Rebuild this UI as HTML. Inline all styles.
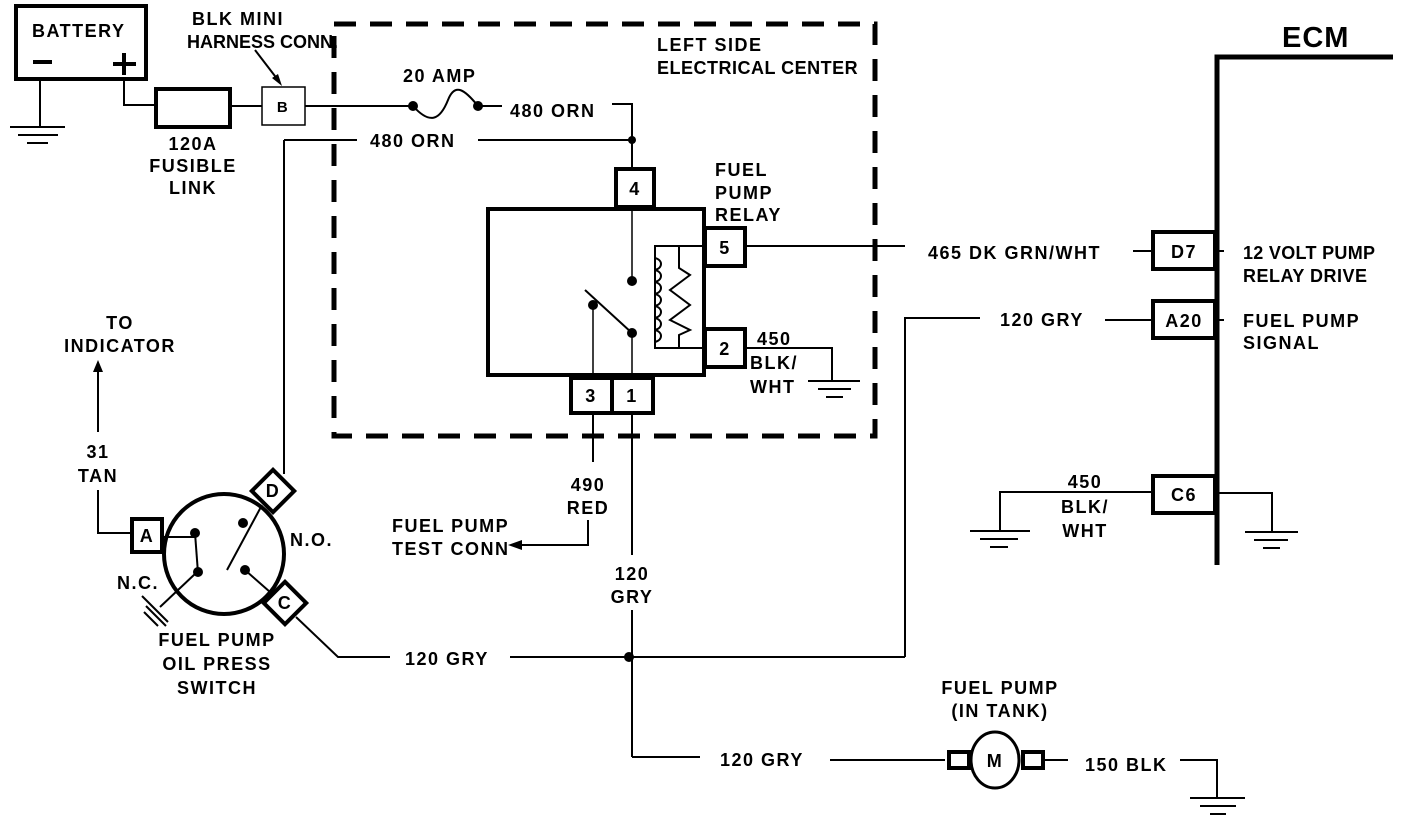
<!DOCTYPE html>
<html><head><style>
html,body{margin:0;padding:0;background:#fff;}
svg{display:block;}
text{font-family:"Liberation Sans",sans-serif;font-weight:bold;font-size:18px;letter-spacing:1.5px;fill:#000;}
</style></head><body>
<svg width="1408" height="820" viewBox="0 0 1408 820" xmlns="http://www.w3.org/2000/svg">
<g stroke="#000" fill="none" stroke-width="2">
<rect x="16" y="6" width="130" height="73" stroke-width="4"/>
<line x1="33" y1="62" x2="52" y2="62" stroke-width="4"/>
<line x1="113" y1="64" x2="136" y2="64" stroke-width="4"/>
<line x1="124" y1="53" x2="124" y2="75" stroke-width="4"/>
<line x1="40" y1="80" x2="40" y2="127"/>
<line x1="10" y1="127" x2="65" y2="127"/>
<line x1="18" y1="135" x2="58" y2="135"/>
<line x1="27" y1="143" x2="48" y2="143"/>
<polyline points="124,80 124,105 155,105"/>
<rect x="156" y="89" width="74" height="38" stroke-width="4"/>
<line x1="230" y1="106" x2="262" y2="106"/>
<rect x="262" y="87" width="43" height="38" stroke-width="1.5"/>
<line x1="255" y1="50" x2="278" y2="80"/>
<line x1="305" y1="106" x2="413" y2="106"/>
<path d="M413,106 C430,125 440,120 448,100 C455,82 465,90 478,106"/>
<line x1="478" y1="106" x2="502" y2="106"/>
<polyline points="612,104 632,104 632,168"/>
<line x1="284" y1="140" x2="357" y2="140"/>
<line x1="478" y1="140" x2="632" y2="140"/>
<line x1="284" y1="140" x2="284" y2="474"/>
<rect x="334" y="24" width="541" height="412" stroke-width="5" stroke-dasharray="22,14"/>
<rect x="488" y="209" width="216" height="166" stroke-width="4"/>
<rect x="616" y="169" width="38" height="38" stroke-width="4"/>
<rect x="705" y="228" width="40" height="38" stroke-width="4"/>
<rect x="705" y="329" width="40" height="38" stroke-width="4"/>
<rect x="571" y="378" width="82" height="35" stroke-width="4"/>
<line x1="612" y1="378" x2="612" y2="413" stroke-width="4"/>
<line x1="632" y1="209" x2="632" y2="280" stroke-width="1.5"/>
<line x1="585" y1="290" x2="632" y2="333"/>
<line x1="632" y1="333" x2="632" y2="378" stroke-width="1.5"/>
<line x1="593" y1="305" x2="593" y2="378" stroke-width="1.5"/>
<polyline points="705,246 655,246 655,348 705,348"/>
<path d="M655,258 c8,2 8,10 0,12 c8,2 8,10 0,12 c8,2 8,10 0,12 c8,2 8,10 0,12 c8,2 8,10 0,12 c8,2 8,10 0,12 c8,2 8,10 0,12" />
<polyline points="679,246 679,268 690,275 670,290 690,305 670,320 690,330 679,335 679,348"/>
<line x1="745" y1="246" x2="905" y2="246"/>
<polyline points="745,348 832,348 832,380"/>
<line x1="808" y1="381" x2="860" y2="381"/>
<line x1="818" y1="389" x2="851" y2="389"/>
<line x1="826" y1="397" x2="843" y2="397"/>
<line x1="593" y1="413" x2="593" y2="462"/>
<polyline points="588,520 588,545 520,545"/>
<line x1="632" y1="413" x2="632" y2="555"/>
<line x1="632" y1="610" x2="632" y2="757"/>
<polyline points="632,757 700,757"/>
<line x1="830" y1="760" x2="945" y2="760"/>
<line x1="510" y1="657" x2="905" y2="657"/>
<polyline points="905,657 905,318 980,318"/>
<line x1="1105" y1="320" x2="1152" y2="320"/>
<line x1="1133" y1="251" x2="1152" y2="251"/>
<polyline points="1217,565 1217,57 1393,57" stroke-width="5"/>
<rect x="1153" y="232" width="62" height="37" stroke-width="4"/>
<rect x="1153" y="301" width="62" height="37" stroke-width="4"/>
<rect x="1153" y="476" width="62" height="37" stroke-width="4"/>
<line x1="1217" y1="251" x2="1224" y2="251"/>
<line x1="1217" y1="320" x2="1224" y2="320"/>
<polyline points="1153,492 1000,492 1000,530"/>
<line x1="970" y1="531" x2="1030" y2="531"/>
<line x1="980" y1="539" x2="1018" y2="539"/>
<line x1="990" y1="547" x2="1008" y2="547"/>
<polyline points="1217,493 1272,493 1272,531"/>
<line x1="1245" y1="532" x2="1298" y2="532"/>
<line x1="1254" y1="540" x2="1288" y2="540"/>
<line x1="1263" y1="548" x2="1280" y2="548"/>
<ellipse cx="995" cy="760" rx="24" ry="28" stroke-width="3"/>
<rect x="949" y="752" width="20" height="16" stroke-width="4"/>
<rect x="1023" y="752" width="20" height="16" stroke-width="4"/>
<line x1="1043" y1="760" x2="1068" y2="760"/>
<polyline points="1180,760 1217,760 1217,797"/>
<line x1="1190" y1="798" x2="1245" y2="798"/>
<line x1="1200" y1="806" x2="1236" y2="806"/>
<line x1="1210" y1="814" x2="1226" y2="814"/>
<circle cx="224" cy="554" r="60" stroke-width="4"/>
<rect x="132" y="519" width="30" height="33" stroke-width="4" fill="#fff"/>
<polyline points="132,533 98,533 98,490"/>
<line x1="98" y1="432" x2="98" y2="370"/>
<g transform="translate(273,491) rotate(45)"><rect x="-15" y="-15" width="30" height="30" stroke-width="4" fill="#fff"/></g>
<g transform="translate(285,603) rotate(45)"><rect x="-15" y="-15" width="30" height="30" stroke-width="4" fill="#fff"/></g>
<line x1="162" y1="537" x2="195" y2="537"/>
<line x1="195" y1="533" x2="198" y2="573"/>
<line x1="196" y1="573" x2="160" y2="607"/>
<line x1="142" y1="596" x2="168" y2="622"/>
<line x1="146" y1="606" x2="166" y2="626"/>
<line x1="144" y1="612" x2="158" y2="626"/>
<line x1="262" y1="505" x2="227" y2="570"/>
<line x1="245" y1="570" x2="270" y2="592"/>
<polyline points="296,617 338,657 390,657"/>
</g>
<g fill="#000">
<circle cx="413" cy="106" r="5"/><circle cx="478" cy="106" r="5"/>
<circle cx="632" cy="140" r="4"/>
<circle cx="632" cy="281" r="5"/><circle cx="593" cy="305" r="5"/><circle cx="632" cy="333" r="5"/>
<circle cx="629" cy="657" r="5"/>
<circle cx="195" cy="533" r="5"/><circle cx="198" cy="572" r="5"/>
<circle cx="243" cy="523" r="5"/><circle cx="245" cy="570" r="5"/>
<polygon points="282,86 272,78 278,74"/>
<polygon points="508,545 522,540 522,550"/>
<polygon points="98,360 93,372 103,372"/>
</g>
<text x="32" y="37">BATTERY</text>
<text x="192" y="25">BLK MINI</text>
<text x="187" y="48" style="letter-spacing:0px">HARNESS CONN.</text>
<text x="283" y="112" text-anchor="middle" style="font-size:15px">B</text>
<text x="193" y="150" text-anchor="middle">120A</text>
<text x="193" y="172" text-anchor="middle">FUSIBLE</text>
<text x="193" y="194" text-anchor="middle">LINK</text>
<text x="403" y="82">20 AMP</text>
<text x="510" y="117">480 ORN</text>
<text x="370" y="147">480 ORN</text>
<text x="657" y="51">LEFT SIDE</text>
<text x="657" y="74" style="letter-spacing:0.5px">ELECTRICAL CENTER</text>
<text x="715" y="176">FUEL</text>
<text x="715" y="199">PUMP</text>
<text x="715" y="221">RELAY</text>
<text x="635" y="195" text-anchor="middle">4</text>
<text x="725" y="254" text-anchor="middle">5</text>
<text x="725" y="355" text-anchor="middle">2</text>
<text x="591" y="402" text-anchor="middle">3</text>
<text x="632" y="402" text-anchor="middle">1</text>
<text x="757" y="345">450</text>
<text x="750" y="369">BLK/</text>
<text x="750" y="393">WHT</text>
<text x="928" y="259">465 DK GRN/WHT</text>
<text x="1000" y="326">120 GRY</text>
<text x="1282" y="47" style="font-size:29px;letter-spacing:1px">ECM</text>
<text x="1184" y="258" text-anchor="middle">D7</text>
<text x="1184" y="327" text-anchor="middle">A20</text>
<text x="1184" y="501" text-anchor="middle">C6</text>
<text x="1243" y="259" style="letter-spacing:0.3px">12 VOLT PUMP</text>
<text x="1243" y="282" style="letter-spacing:0.5px">RELAY DRIVE</text>
<text x="1243" y="327">FUEL PUMP</text>
<text x="1243" y="349">SIGNAL</text>
<text x="1085" y="488" text-anchor="middle">450</text>
<text x="1085" y="513" text-anchor="middle">BLK/</text>
<text x="1085" y="537" text-anchor="middle">WHT</text>
<text x="588" y="491" text-anchor="middle">490</text>
<text x="588" y="514" text-anchor="middle">RED</text>
<text x="392" y="532">FUEL PUMP</text>
<text x="392" y="555">TEST CONN</text>
<text x="632" y="580" text-anchor="middle">120</text>
<text x="632" y="603" text-anchor="middle">GRY</text>
<text x="405" y="665">120 GRY</text>
<text x="720" y="766">120 GRY</text>
<text x="1000" y="694" text-anchor="middle">FUEL PUMP</text>
<text x="1000" y="717" text-anchor="middle">(IN TANK)</text>
<text x="995" y="767" text-anchor="middle">M</text>
<text x="1085" y="771">150 BLK</text>
<text x="120" y="329" text-anchor="middle">TO</text>
<text x="120" y="352" text-anchor="middle">INDICATOR</text>
<text x="98" y="458" text-anchor="middle">31</text>
<text x="98" y="482" text-anchor="middle">TAN</text>
<text x="147" y="542" text-anchor="middle">A</text>
<text x="273" y="497" text-anchor="middle">D</text>
<text x="285" y="609" text-anchor="middle">C</text>
<text x="290" y="546">N.O.</text>
<text x="117" y="589">N.C.</text>
<text x="217" y="646" text-anchor="middle">FUEL PUMP</text>
<text x="217" y="670" text-anchor="middle">OIL PRESS</text>
<text x="217" y="694" text-anchor="middle">SWITCH</text>
</svg>
</body></html>
